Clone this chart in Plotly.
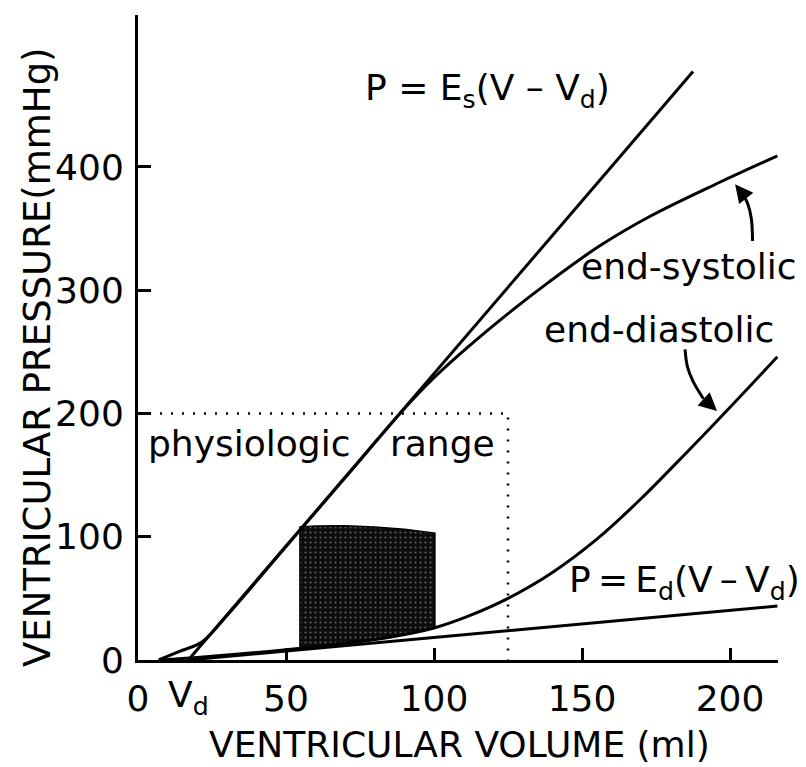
import plotly.graph_objects as go

# ---- data ----
vd = 17.0            # dead volume (ml)
es_slope = 2.8       # Es (mmHg/ml)
ed_slope = 0.22      # Ed (mmHg/ml)

es_line_v = [17.0, 187.5]
es_line_p = [es_slope * (v - vd) for v in es_line_v]

ed_line_v = [17.0, 216.0]
ed_line_p = [ed_slope * (v - vd) for v in ed_line_v]

es_curve_v = [7, 14, 21.6, 30, 50, 70, 90, 100, 112, 125, 139, 156, 173, 196, 216]
es_curve_p = [0, 7, 14.6, 36, 92, 148, 204, 229, 255, 281, 307, 336, 360, 387, 409]

ed_curve_v = [8, 20, 35, 55, 70, 85, 100, 112, 125, 140, 155, 170, 186, 200, 216]
ed_curve_p = [0, 2, 5, 9.5, 13.5, 18.5, 26, 36, 50, 71, 98, 131, 170, 205, 246]

loop_v = [54.7, 54.7, 60, 70, 80, 90, 100.3, 100.3, 90, 80, 70, 60, 54.7]
loop_p = [10, 108, 108.8, 109, 108, 106, 103, 26, 21, 16.5, 13.5, 11, 10]

range_v = [0, 125, 125]
range_p = [200, 200, 0]

arrow_sys_v = [207.6, 207.2, 206.0, 204.0]
arrow_sys_p = [340, 358, 370, 379]
arrow_dia_v = [184.8, 185.6, 187.5, 191.0]
arrow_dia_p = [252, 238, 226, 212]

x_ticks = [0, 50, 100, 150, 200]
y_ticks = [0, 100, 200, 300, 400]

FONT = "DejaVu Sans"
FS = 36
LW = 3

fig = go.Figure()

# stippled P-V loop
fig.add_trace(go.Scatter(
    x=loop_v, y=loop_p, mode="lines", fill="toself",
    line=dict(color="black", width=1.5),
    fillcolor="#111111",
    fillpattern=dict(shape=".", bgcolor="#0d0d0d", fgcolor="#b0b0b0", size=5, solidity=0.15),
    hoverinfo="skip", showlegend=False))

# physiologic range (dotted)
fig.add_trace(go.Scatter(x=range_v, y=range_p, mode="lines",
                         line=dict(color="black", width=2.5, dash="2px,9px"),
                         showlegend=False, hoverinfo="skip"))

for xs, ys, shape in [(es_line_v, es_line_p, "linear"),
                      (ed_line_v, ed_line_p, "linear"),
                      (es_curve_v, es_curve_p, "spline"),
                      (ed_curve_v, ed_curve_p, "spline"),
                      (arrow_sys_v, arrow_sys_p, "spline"),
                      (arrow_dia_v, arrow_dia_p, "spline")]:
    fig.add_trace(go.Scatter(x=xs, y=ys, mode="lines",
                             line=dict(color="black", width=LW, shape=shape),
                             showlegend=False, hoverinfo="skip"))

ann = []
def txt(x, y, s, xanchor="center", yanchor="middle", size=FS, xref="x", yref="y", textangle=0):
    ann.append(dict(x=x, y=y, xref=xref, yref=yref, text=s, showarrow=False,
                    xanchor=xanchor, yanchor=yanchor, textangle=textangle,
                    font=dict(family=FONT, size=size, color="black")))

txt(118, 462, "P = E<sub>s</sub>(V – V<sub>d</sub>)")
txt(186, 319, "end-systolic")
txt(176, 268, "end-diastolic")
txt(37.5, 176, "physiologic")
txt(102.7, 176, "range")
txt((802 - 138) / 640, 63, "P\u2009=\u2009E<sub>d</sub>(V\u2009–\u2009V<sub>d</sub>)", xanchor="right", xref="paper")
txt(vd, (660 - 697) / 645, "V<sub>d</sub>", yref="paper")

# arrowheads
for (tx, ty, ax, ay) in [(arrow_sys_v[-1] - 2.3, 386, arrow_sys_v[-1], arrow_sys_p[-1]),
                         (arrow_dia_v[-1] + 4.6, 202, arrow_dia_v[-1], arrow_dia_p[-1])]:
    ann.append(dict(x=tx, y=ty, ax=ax, ay=ay, xref="x", yref="y", axref="x", ayref="y",
                    showarrow=True, arrowhead=2, arrowsize=1.2, arrowwidth=3,
                    arrowcolor="black", standoff=0, text=""))

# axis titles
ann.append(dict(x=(459 - 138) / 640, y=(660 - 744) / 645, xref="paper", yref="paper",
                text="VENTRICULAR VOLUME (ml)", showarrow=False,
                xanchor="center", yanchor="middle",
                font=dict(family=FONT, size=36, color="black")))
ann.append(dict(x=(37 - 138) / 640, y=(660 - 357) / 645, xref="paper", yref="paper",
                text="VENTRICULAR PRESSURE(mmHg)", textangle=-90, showarrow=False,
                xanchor="center", yanchor="middle",
                font=dict(family=FONT, size=37, color="black")))

fig.update_layout(
    width=806, height=767,
    margin=dict(l=138, r=28, t=15, b=107),
    paper_bgcolor="white", plot_bgcolor="white",
    annotations=ann,
    font=dict(family=FONT, size=FS, color="black"),
    xaxis=dict(range=[0, 216.2], showgrid=False, zeroline=False, showline=True,
               linecolor="black", linewidth=3, ticks="inside", ticklen=12, tickwidth=3,
               tickcolor="black", tickvals=x_ticks, ticktext=[str(v) for v in x_ticks],
               tickfont=dict(family=FONT, size=FS, color="black"), ticklabelstandoff=5),
    yaxis=dict(range=[0, 523.3], showgrid=False, zeroline=False, showline=True,
               linecolor="black", linewidth=3, ticks="inside", ticklen=13, tickwidth=3,
               tickcolor="black", tickvals=y_ticks, ticktext=[str(v) for v in y_ticks],
               tickfont=dict(family=FONT, size=FS, color="black"), ticklabelstandoff=4),
)

fig.write_html("out.html")
